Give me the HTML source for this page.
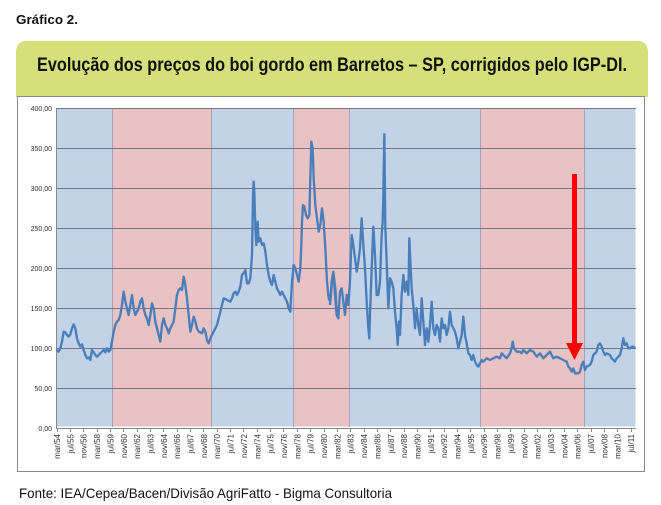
<!DOCTYPE html>
<html><head><meta charset="utf-8"><style>
html,body{margin:0;padding:0;background:#fff;}
svg{display:block;}
</style></head><body>
<svg width="661" height="505" viewBox="0 0 661 505" xmlns="http://www.w3.org/2000/svg">
<text x="16" y="24" font-family="'Liberation Sans Narrow','Liberation Sans',sans-serif" font-weight="bold" font-size="13" textLength="62" lengthAdjust="spacingAndGlyphs" fill="#111">Gráfico 2.</text>
<path d="M16,97 L16,52 Q16,41 27,41 L637,41 Q648,41 648,52 L648,97 Z" fill="#d6e07b"/>
<text x="37" y="71" font-family="'Liberation Sans Narrow','Liberation Sans',sans-serif" font-weight="bold" font-size="19" textLength="590" lengthAdjust="spacingAndGlyphs" fill="#111">Evolução dos preços do boi gordo em Barretos – SP, corrigidos pelo IGP-DI.</text>
<rect x="17.5" y="96.5" width="627" height="375" fill="#fff" stroke="#8a8a8a" stroke-width="1"/>
<g>
<rect x="56.5" y="108.5" width="56" height="318" fill="#c2d3e8"/>
<rect x="112.5" y="108.5" width="99" height="318" fill="#e9c2c3"/>
<rect x="211.5" y="108.5" width="82" height="318" fill="#c2d3e8"/>
<rect x="293.5" y="108.5" width="56" height="318" fill="#e9c2c3"/>
<rect x="349.5" y="108.5" width="131" height="318" fill="#c2d3e8"/>
<rect x="480.5" y="108.5" width="104" height="318" fill="#e9c2c3"/>
<rect x="584.5" y="108.5" width="51" height="318" fill="#c2d3e8"/>
<g stroke="#a8a0b8" stroke-width="1"><line x1="112.5" y1="108" x2="112.5" y2="427"/><line x1="211.5" y1="108" x2="211.5" y2="427"/><line x1="293.5" y1="108" x2="293.5" y2="427"/><line x1="349.5" y1="108" x2="349.5" y2="427"/><line x1="480.5" y1="108" x2="480.5" y2="427"/><line x1="584.5" y1="108" x2="584.5" y2="427"/></g>
<g stroke="#767684" stroke-width="1">
<line x1="56" y1="108.5" x2="636" y2="108.5"/><line x1="56" y1="148.5" x2="636" y2="148.5"/><line x1="56" y1="188.5" x2="636" y2="188.5"/><line x1="56" y1="228.5" x2="636" y2="228.5"/><line x1="56" y1="268.5" x2="636" y2="268.5"/><line x1="56" y1="308.5" x2="636" y2="308.5"/><line x1="56" y1="348.5" x2="636" y2="348.5"/><line x1="56" y1="388.5" x2="636" y2="388.5"/>
</g>
<line x1="56.5" y1="108" x2="56.5" y2="429" stroke="#888" stroke-width="1"/>
<line x1="56" y1="428.5" x2="636" y2="428.5" stroke="#888" stroke-width="1"/>
<path stroke="#888" stroke-width="1" d="M57.5,428v4M70.5,428v4M83.5,428v4M97.5,428v4M110.5,428v4M123.5,428v4M137.5,428v4M150.5,428v4M163.5,428v4M177.5,428v4M190.5,428v4M203.5,428v4M217.5,428v4M230.5,428v4M243.5,428v4M257.5,428v4M270.5,428v4M283.5,428v4M297.5,428v4M310.5,428v4M324.5,428v4M337.5,428v4M350.5,428v4M364.5,428v4M377.5,428v4M390.5,428v4M404.5,428v4M417.5,428v4M430.5,428v4M444.5,428v4M457.5,428v4M470.5,428v4M484.5,428v4M497.5,428v4M510.5,428v4M524.5,428v4M537.5,428v4M550.5,428v4M564.5,428v4M577.5,428v4M591.5,428v4M604.5,428v4M617.5,428v4M631.5,428v4"/>
</g>
<g font-family="'Liberation Sans',sans-serif" font-size="7" fill="#333" text-anchor="end">
<text x="52" y="111">400,00</text><text x="52" y="151">350,00</text><text x="52" y="191">300,00</text><text x="52" y="231">250,00</text><text x="52" y="271">200,00</text><text x="52" y="311">150,00</text><text x="52" y="351">100,00</text><text x="52" y="391">50,00</text><text x="52" y="431">0,00</text>
</g>
<g transform="translate(17,95) scale(0.33333)" fill="none" stroke="#4a7ebb" stroke-width="7" stroke-linejoin="round">
<polyline points="118,765 125,770 130,760 135,740 140,710 145,712 150,720 155,725 160,718 165,700 170,688 175,700 180,730 185,745 190,755 195,748 200,765 205,780 210,790 215,787 220,795 225,765 230,772 235,780 240,785 245,780 250,775 255,770 260,765 265,772 270,760 275,770 280,765 285,740 290,710 295,690 300,680 305,675 310,660 315,630 320,590 325,620 330,640 335,660 340,630 345,600 350,640 355,660 360,650 365,640 370,620 375,610 380,640 385,660 390,670 395,690 400,660 405,625 410,640 415,680 420,700 425,720 430,740 435,690 440,670 445,690 450,700 455,715 460,700 465,690 470,680 475,640 480,600 485,585 490,580 495,585 500,545 505,570 510,610 515,660 520,710 525,690 530,665 535,680 540,700 545,710 550,712 555,715 560,700 565,710 570,735 575,745 580,730 585,720 590,710 595,700 600,690 605,670 610,650 615,630 620,610 625,612 630,615 640,620 645,610 650,595 655,590 660,600 665,590 670,575 675,540 680,535 685,525 690,565 695,565 700,550 705,480 708,300 710,260 712,290 715,400 718,450 720,420 722,380 725,440 730,430 735,450 740,445 745,470 750,510 755,540 760,560 765,570 770,540 775,560 780,580 785,590 790,600 795,590 800,600 805,610 810,620 815,640 820,650 825,560 830,510 835,520 840,540 845,560 850,520 853,450 855,380 858,330 862,335 867,360 872,370 877,360 880,250 883,140 887,160 890,250 895,330 900,370 905,410 910,390 915,340 920,380 925,460 930,560 935,610 940,620 945,560 950,540 955,580 960,660 960,650"/>
</g>
<g transform="translate(330,95) scale(0.33333)" fill="none" stroke="#4a7ebb" stroke-width="7" stroke-linejoin="round">
<polyline points="0,630 5,560 10,530 15,600 20,660 25,670 30,590 35,580 40,620 45,660 50,600 55,630 60,560 65,420 70,450 75,490 80,530 85,500 90,460 95,370 100,450 105,520 110,620 115,700 118,730 120,660 125,520 130,395 135,480 140,600 145,600 150,560 155,420 158,380 160,300 163,118 166,400 170,500 175,640 180,550 185,560 190,580 195,650 200,700 203,750 207,680 210,720 215,600 220,540 225,590 230,560 235,600 238,430 242,520 245,580 250,630 255,700 260,640 265,690 270,720 275,610 280,680 285,750 290,700 295,740 300,690 305,620 310,700 315,720 320,690 325,700 330,740 335,670 340,700 345,690 350,720 355,700 360,650 365,690 370,700 375,710 380,730 385,760 390,740 395,720 400,665 405,720 410,745 415,775 420,780 425,795 430,780 435,800 440,810 445,815 450,805 455,795 460,800 470,790 480,795 490,790 500,785 510,790 515,775 520,780 530,790 540,775 545,760 548,740 552,760 560,770 570,770 575,775 580,765 590,775 600,765 610,770 620,785 630,775 640,790 650,780 660,770 670,790 680,785 690,790 700,795 710,800 715,815 720,820 725,830 730,820 735,835 740,835 745,835 750,830 755,810 760,800 765,825 770,815 780,810 785,800 790,780 800,770 805,750 810,745 815,755 820,770 825,780 830,775 840,780 845,790 850,795 855,800 860,790 870,780 875,760 880,730 885,750 890,745 895,760 900,760 905,755 910,755 915,760"/>
</g>
<rect x="572" y="174" width="5" height="172" fill="#f00"/>
<polygon points="566,343 583,343 574.5,360" fill="#f00"/>
<g font-family="'Liberation Sans',sans-serif" font-size="8" fill="#333" text-anchor="end">
<text transform="translate(60,434) rotate(-90)">mar/54</text>
<text transform="translate(73.4,434) rotate(-90)">jul/55</text>
<text transform="translate(86.7,434) rotate(-90)">nov/56</text>
<text transform="translate(100,434) rotate(-90)">mar/58</text>
<text transform="translate(113.4,434) rotate(-90)">jul/59</text>
<text transform="translate(126.8,434) rotate(-90)">nov/60</text>
<text transform="translate(140.1,434) rotate(-90)">mar/62</text>
<text transform="translate(153.5,434) rotate(-90)">jul/63</text>
<text transform="translate(166.8,434) rotate(-90)">nov/64</text>
<text transform="translate(180.2,434) rotate(-90)">mar/66</text>
<text transform="translate(193.5,434) rotate(-90)">jul/67</text>
<text transform="translate(206.9,434) rotate(-90)">nov/68</text>
<text transform="translate(220.2,434) rotate(-90)">mar/70</text>
<text transform="translate(233.6,434) rotate(-90)">jul/71</text>
<text transform="translate(246.9,434) rotate(-90)">nov/72</text>
<text transform="translate(260.3,434) rotate(-90)">mar/74</text>
<text transform="translate(273.6,434) rotate(-90)">jul/75</text>
<text transform="translate(287,434) rotate(-90)">nov/76</text>
<text transform="translate(300.3,434) rotate(-90)">mar/78</text>
<text transform="translate(313.7,434) rotate(-90)">jul/79</text>
<text transform="translate(327,434) rotate(-90)">nov/80</text>
<text transform="translate(340.4,434) rotate(-90)">mar/82</text>
<text transform="translate(353.7,434) rotate(-90)">jul/83</text>
<text transform="translate(367.1,434) rotate(-90)">nov/84</text>
<text transform="translate(380.4,434) rotate(-90)">mar/86</text>
<text transform="translate(393.8,434) rotate(-90)">jul/87</text>
<text transform="translate(407.1,434) rotate(-90)">nov/88</text>
<text transform="translate(420.5,434) rotate(-90)">mar/90</text>
<text transform="translate(433.8,434) rotate(-90)">jul/91</text>
<text transform="translate(447.2,434) rotate(-90)">nov/92</text>
<text transform="translate(460.5,434) rotate(-90)">mar/94</text>
<text transform="translate(473.9,434) rotate(-90)">jul/95</text>
<text transform="translate(487.2,434) rotate(-90)">nov/96</text>
<text transform="translate(500.6,434) rotate(-90)">mar/98</text>
<text transform="translate(513.9,434) rotate(-90)">jul/99</text>
<text transform="translate(527.3,434) rotate(-90)">nov/00</text>
<text transform="translate(540.6,434) rotate(-90)">mar/02</text>
<text transform="translate(554,434) rotate(-90)">jul/03</text>
<text transform="translate(567.3,434) rotate(-90)">nov/04</text>
<text transform="translate(580.7,434) rotate(-90)">mar/06</text>
<text transform="translate(594,434) rotate(-90)">jul/07</text>
<text transform="translate(607.4,434) rotate(-90)">nov/08</text>
<text transform="translate(620.7,434) rotate(-90)">mar/10</text>
<text transform="translate(634.1,434) rotate(-90)">jul/11</text>
</g>
<text x="19" y="498" font-family="'Liberation Sans Narrow','Liberation Sans',sans-serif" font-size="14" textLength="373" lengthAdjust="spacingAndGlyphs" fill="#111">Fonte: IEA/Cepea/Bacen/Divisão AgriFatto - Bigma Consultoria</text>
</svg>
</body></html>
